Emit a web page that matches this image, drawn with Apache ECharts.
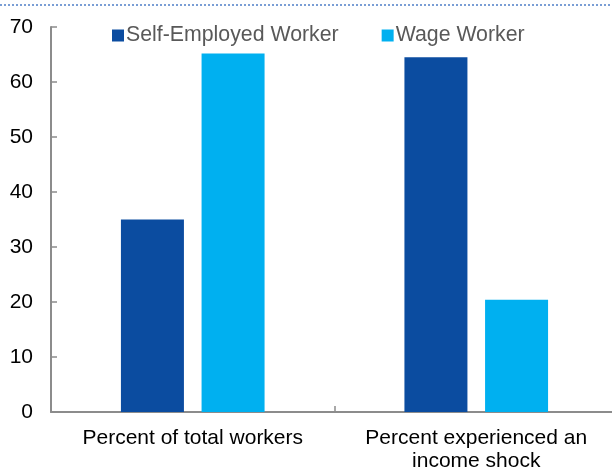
<!DOCTYPE html>
<html>
<head>
<meta charset="utf-8">
<script src="https://cdn.jsdelivr.net/npm/echarts@6/dist/echarts.min.js"></script>
<style>
  html, body { margin: 0; padding: 0; background: #fff; }
  #chart { width: 612px; height: 472px; }
</style>
</head>
<body>
<div id="chart"></div>
<script>
// Worker categories and their shares (percent)
const categories = ['Percent of total workers', 'Percent experienced an\nincome shock'];
const selfEmployed = [35, 64.5];
const wageWorker = [65.2, 20.4];
const yTicks = { min: 0, max: 70, interval: 10 };

const FONT = '"Liberation Sans", Arial, sans-serif';
const AXIS_GRAY = '#8c8c8c';

const chart = echarts.init(document.getElementById('chart'), null, { renderer: 'canvas' });

chart.setOption({
  animation: false,
  backgroundColor: '#ffffff',
  textStyle: { fontFamily: FONT },
  graphic: [{
    type: 'line',
    shape: { x1: 0, y1: 5, x2: 612, y2: 5 },
    style: { stroke: '#4f7fc8', lineWidth: 1.5, lineDash: [2, 2] }
  }],
  legend: {
    left: 107,
    top: 20,
    padding: 5,
    icon: 'rect',
    itemWidth: 12,
    itemHeight: 12,
    itemGap: 43,
    textStyle: {
      fontFamily: FONT,
      fontSize: 21.3,
      color: '#595959',
      padding: [0, 0, 0, -3]
    },
    data: ['Self-Employed Worker', 'Wage Worker']
  },
  grid: { left: 51, right: -6, top: 27, bottom: 60, containLabel: false, outerBoundsMode: 'none' },
  xAxis: {
    type: 'category',
    data: categories,
    boundaryGap: true,
    axisLine: { lineStyle: { color: AXIS_GRAY, width: 2 } },
    axisTick: { show: true, inside: true, length: 6, alignWithLabel: false, lineStyle: { color: AXIS_GRAY, width: 1.5 } },
    axisLabel: {
      color: '#000',
      fontFamily: FONT,
      fontSize: 21,
      lineHeight: 23,
      margin: 15,
      interval: 0
    },
    splitLine: { show: false }
  },
  yAxis: {
    type: 'value',
    min: yTicks.min,
    max: yTicks.max,
    interval: yTicks.interval,
    axisLine: { show: true, lineStyle: { color: AXIS_GRAY, width: 2 } },
    axisTick: { show: true, inside: true, length: 6, lineStyle: { color: AXIS_GRAY, width: 1.5 } },
    axisLabel: { color: '#000', fontFamily: FONT, fontSize: 21, margin: 18 },
    splitLine: { show: false }
  },
  series: [
    {
      name: 'Self-Employed Worker',
      type: 'bar',
      data: selfEmployed,
      barWidth: 63,
      barGap: '28%',
      itemStyle: { color: '#0b4ca0' }
    },
    {
      name: 'Wage Worker',
      type: 'bar',
      data: wageWorker,
      barWidth: 63,
      itemStyle: { color: '#00b0f0' }
    }
  ]
});
</script>
</body>
</html>
